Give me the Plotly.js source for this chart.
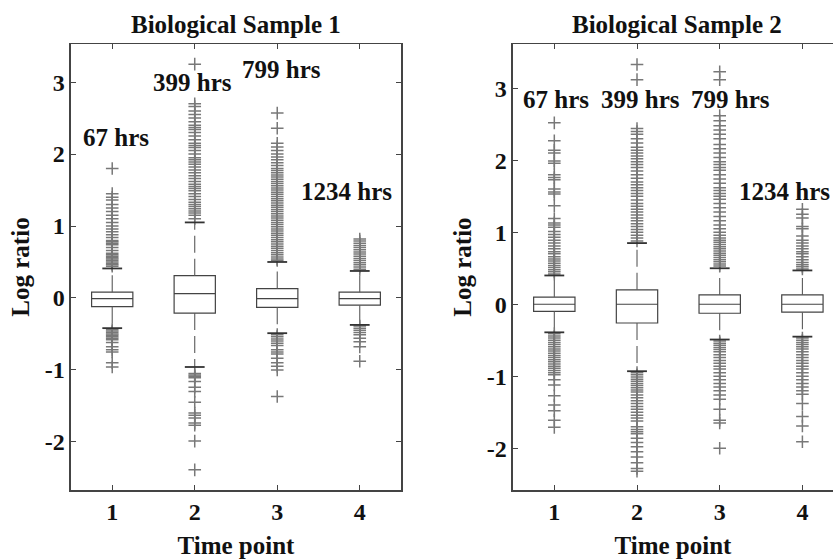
<!DOCTYPE html>
<html>
<head>
<meta charset="utf-8">
<script src="https://cdn.plot.ly/plotly-3.0.1.min.js"></script>
<style>html,body{margin:0;padding:0;background:#fff;}#chart{width:833px;height:560px;}</style>
</head>
<body>
<div id="chart"></div>
<script>
// ---- data ----
var timePoints = [1, 2, 3, 4];
var tickLabels = ["1", "2", "3", "4"];
var yTickVals = [-2, -1, 0, 1, 2, 3];
var yTickLabels = ["-2", "-1", "0", "1", "2", "3"];
var hoursLabels = ["67 hrs", "399 hrs", "799 hrs", "1234 hrs"];

// Biological Sample 1
var s1Q1 = [-0.12, -0.21, -0.13, -0.10];
var s1Median = [-0.01, 0.06, -0.01, -0.01];
var s1Q3 = [0.08, 0.31, 0.13, 0.08];
var s1Lower = [-0.42, -0.96, -0.49, -0.375];
var s1Upper = [0.41, 1.05, 0.50, 0.375];
var s1Out1 = [1.80, 1.45, 1.40, 1.36, 1.30, 1.25, 1.20, 1.15, 1.10, 1.05, 1.00, 0.96, 0.92, 0.88, 0.84, 0.80, 0.78, 0.76, 0.74, 0.70, 0.66, 0.62, 0.60, 0.58, 0.56, 0.54, 0.52, 0.50, 0.48, 0.46, 0.44,
  -0.44, -0.46, -0.48, -0.50, -0.52, -0.54, -0.56, -0.58, -0.62, -0.68, -0.72, -0.75, -0.90, -0.96];
var s1Out2 = [3.25, 2.70, 2.66, 2.60, 2.55, 2.50, 2.45, 2.40, 2.37, 2.34, 2.30, 2.25, 2.20, 2.15, 2.12, 2.09, 2.05, 2.00, 1.95, 1.92, 1.89, 1.86, 1.82, 1.78, 1.74, 1.70, 1.66, 1.62, 1.58, 1.55, 1.52, 1.49, 1.45, 1.41, 1.37, 1.33, 1.30, 1.27, 1.24, 1.21, 1.18, 1.15, 1.10,
  -1.05, -1.07, -1.09, -1.11, -1.16, -1.24, -1.30, -1.45, -1.60, -1.63, -1.67, -1.74, -1.77, -1.99, -2.39];
var s1Out3 = [2.57, 2.36, 2.15, 2.10, 2.05, 2.00, 1.96, 1.92, 1.88, 1.84, 1.80, 1.77, 1.74, 1.71, 1.68, 1.65, 1.62, 1.59, 1.56, 1.53, 1.50, 1.47, 1.44, 1.41, 1.38, 1.35, 1.32, 1.29, 1.26, 1.23, 1.20, 1.17, 1.14, 1.11, 1.08, 1.05, 1.02, 0.99, 0.96, 0.93, 0.90, 0.87, 0.84, 0.81, 0.78, 0.75, 0.72, 0.69, 0.66, 0.63, 0.60, 0.57, 0.54, 0.52,
  -0.51, -0.54, -0.57, -0.60, -0.63, -0.66, -0.72, -0.75, -0.78, -0.84, -0.90, -0.95, -1.00, -1.37];
var s1Out4 = [0.82, 0.79, 0.76, 0.73, 0.70, 0.67, 0.64, 0.61, 0.58, 0.55, 0.52, 0.49, 0.46, 0.43, 0.40,
  -0.39, -0.42, -0.45, -0.48, -0.51, -0.56, -0.61, -0.68, -0.88];

// Biological Sample 2
var s2Q1 = [-0.10, -0.26, -0.125, -0.11];
var s2Median = [0.0, 0.0, 0.0, 0.0];
var s2Q3 = [0.10, 0.20, 0.13, 0.13];
var s2Lower = [-0.39, -0.93, -0.49, -0.45];
var s2Upper = [0.40, 0.85, 0.50, 0.47];
var s2Out1 = [2.52, 2.27, 2.14, 2.10, 1.99, 1.96, 1.80, 1.76, 1.73, 1.60, 1.56, 1.53, 1.37, 1.19, 1.13, 1.10, 1.07, 1.01, 0.97, 0.93, 0.89, 0.85, 0.81, 0.77, 0.73, 0.70, 0.66, 0.63, 0.60, 0.57, 0.54, 0.51, 0.48, 0.45, 0.42,
  -0.41, -0.44, -0.47, -0.50, -0.53, -0.56, -0.59, -0.62, -0.65, -0.68, -0.71, -0.74, -0.77, -0.80, -0.83, -0.86, -0.89, -0.92, -0.95, -0.98, -1.05, -1.12, -1.27, -1.40, -1.48, -1.61, -1.71];
var s2Out2 = [3.33, 3.12, 2.44, 2.40, 2.36, 2.30, 2.24, 2.18, 2.14, 2.10, 2.06, 2.02, 1.98, 1.94, 1.90, 1.85, 1.80, 1.75, 1.70, 1.66, 1.62, 1.58, 1.54, 1.50, 1.45, 1.40, 1.36, 1.32, 1.28, 1.24, 1.20, 1.16, 1.12, 1.08, 1.04, 1.00, 0.96, 0.92, 0.88,
  -0.95, -0.98, -1.01, -1.04, -1.07, -1.10, -1.13, -1.16, -1.19, -1.22, -1.26, -1.30, -1.34, -1.38, -1.42, -1.46, -1.50, -1.54, -1.58, -1.62, -1.70, -1.74, -1.77, -1.80, -1.86, -1.92, -1.98, -2.05, -2.12, -2.20, -2.28, -2.32];
var s2Out3 = [3.23, 3.12, 2.62, 2.55, 2.48, 2.42, 2.36, 2.30, 2.22, 2.16, 2.10, 2.04, 1.98, 1.94, 1.90, 1.86, 1.80, 1.74, 1.68, 1.62, 1.58, 1.54, 1.50, 1.46, 1.40, 1.34, 1.28, 1.22, 1.16, 1.10, 1.05, 1.00, 0.96, 0.92, 0.89, 0.86, 0.83, 0.80, 0.77, 0.74, 0.71, 0.68, 0.65, 0.62, 0.59, 0.56, 0.53,
  -0.51, -0.54, -0.57, -0.60, -0.63, -0.66, -0.70, -0.74, -0.78, -0.82, -0.86, -0.90, -0.95, -1.00, -1.05, -1.10, -1.15, -1.20, -1.26, -1.32, -1.46, -1.61, -1.65, -2.00];
var s2Out4 = [1.32, 1.25, 1.20, 1.08, 1.05, 0.95, 0.89, 0.85, 0.81, 0.77, 0.73, 0.70, 0.66, 0.62, 0.58, 0.55, 0.52, 0.49,
  -0.47, -0.50, -0.53, -0.56, -0.59, -0.62, -0.66, -0.70, -0.74, -0.78, -0.82, -0.86, -0.90, -0.95, -1.00, -1.05, -1.10, -1.15, -1.20, -1.25, -1.38, -1.56, -1.69, -1.91];

// annotation anchor values (data units)
var s1LabelX = [1.04, 1.97, 3.05, 3.84];
var s1LabelY = [2.23, 2.99, 3.17, 1.48];
var s2LabelX = [1.02, 2.04, 3.13, 3.21];
var s2LabelY = [2.85, 2.85, 2.85, 1.57];

// ---- styling ----
var FONT = "'Liberation Serif', 'Times New Roman', serif";
var boxColor = "#444444";
var whiskerColor = "#5a5a5a";
var capColor = "#333333";
var outColor = "#787878";
var capHalf = 0.12;

function buildTraces(q1, med, q3, lo, up, outs, xa, ya) {
  var traces = [];
  traces.push({
    type: "box", x: timePoints, q1: q1, median: med, q3: q3,
    lowerfence: q1, upperfence: q3, boxpoints: false, width: 0.5,
    fillcolor: "rgba(255,255,255,1)", line: {color: boxColor, width: 1.2},
    whiskerwidth: 0, xaxis: xa, yaxis: ya, hoverinfo: "skip"
  });
  var wx = [], wy = [], cx = [], cy = [];
  for (var i = 0; i < timePoints.length; i++) {
    var p = timePoints[i];
    wx.push(p, p, null, p, p, null);
    wy.push(q3[i], up[i], null, q1[i], lo[i], null);
    cx.push(p - capHalf, p + capHalf, null, p - capHalf, p + capHalf, null);
    cy.push(up[i], up[i], null, lo[i], lo[i], null);
  }
  traces.push({type: "scatter", mode: "lines", x: wx, y: wy, xaxis: xa, yaxis: ya,
    line: {color: whiskerColor, width: 1.1, dash: "17px,6px"}, hoverinfo: "skip"});
  var ox = [], oy = [];
  for (var j = 0; j < outs.length; j++) {
    for (var k = 0; k < outs[j].length; k++) { ox.push(timePoints[j]); oy.push(outs[j][k]); }
  }
  traces.push({type: "scatter", mode: "markers", x: ox, y: oy, xaxis: xa, yaxis: ya,
    marker: {symbol: "cross-thin-open", size: 9, color: outColor, line: {color: outColor, width: 1.5}},
    hoverinfo: "y"});
  traces.push({type: "scatter", mode: "lines", x: cx, y: cy, xaxis: xa, yaxis: ya,
    line: {color: capColor, width: 1.8}, hoverinfo: "skip"});
  return traces;
}

var data = [].concat(
  buildTraces(s1Q1, s1Median, s1Q3, s1Lower, s1Upper, [s1Out1, s1Out2, s1Out3, s1Out4], "x", "y"),
  buildTraces(s2Q1, s2Median, s2Q3, s2Lower, s2Upper, [s2Out1, s2Out2, s2Out3, s2Out4], "x2", "y2")
);

var tickFont = {family: FONT, size: 24, color: "#111", weight: "bold"};
var titleFont = {family: FONT, size: 25, color: "#111", weight: "bold"};

function xAxis(domain, range, anchor) {
  return {domain: domain, range: range, anchor: anchor, tickvals: timePoints, ticktext: tickLabels,
    ticks: "inside", ticklen: 5, tickcolor: boxColor, showline: true, mirror: "ticks",
    linecolor: boxColor, linewidth: 1.5, showgrid: false, zeroline: false, tickfont: tickFont,
    title: {text: "Time point", font: titleFont, standoff: 12}, fixedrange: true};
}
function yAxis(domain, range, anchor, mirror) {
  return {domain: domain, range: range, anchor: anchor, tickvals: yTickVals, ticktext: yTickLabels,
    ticks: "inside", ticklen: 5, tickcolor: boxColor, showline: true, mirror: mirror,
    linecolor: boxColor, linewidth: 1.5, showgrid: false, zeroline: false, tickfont: tickFont,
    title: {text: "Log ratio", font: titleFont, standoff: 8}, fixedrange: true};
}

var annotations = [];
for (var i = 0; i < hoursLabels.length; i++) {
  annotations.push({xref: "x", yref: "y", x: s1LabelX[i], y: s1LabelY[i], text: hoursLabels[i],
    showarrow: false, font: titleFont, xanchor: "center", yanchor: "middle"});
  annotations.push({xref: "x2", yref: "y2", x: s2LabelX[i], y: s2LabelY[i], text: hoursLabels[i],
    showarrow: false, font: titleFont, xanchor: (i === 3 ? "left" : "center"), yanchor: "middle"});
}
annotations.push({xref: "paper", yref: "paper", x: 0.2833, y: 0.957, text: "Biological Sample 1",
  showarrow: false, font: titleFont, xanchor: "center", yanchor: "middle"});
annotations.push({xref: "paper", yref: "paper", x: 0.8127, y: 0.957, text: "Biological Sample 2",
  showarrow: false, font: titleFont, xanchor: "center", yanchor: "middle"});

var layout = {
  width: 833, height: 560, margin: {l: 0, r: 0, t: 0, b: 0},
  paper_bgcolor: "#fff", plot_bgcolor: "#fff", showlegend: false,
  xaxis: xAxis([0.0852, 0.4814], [0.5, 4.5], "y"),
  yaxis: yAxis([0.125, 0.9214], [-2.67, 3.53], "x", "ticks"),
  xaxis2: xAxis([0.6158, 1.0], [0.5, 4.37], "y2"),
  yaxis2: yAxis([0.125, 0.9214], [-2.58, 3.615], "x2", false),
  annotations: annotations
};

Plotly.newPlot("chart", data, layout, {displayModeBar: false, staticPlot: true});
</script>
</body>
</html>
